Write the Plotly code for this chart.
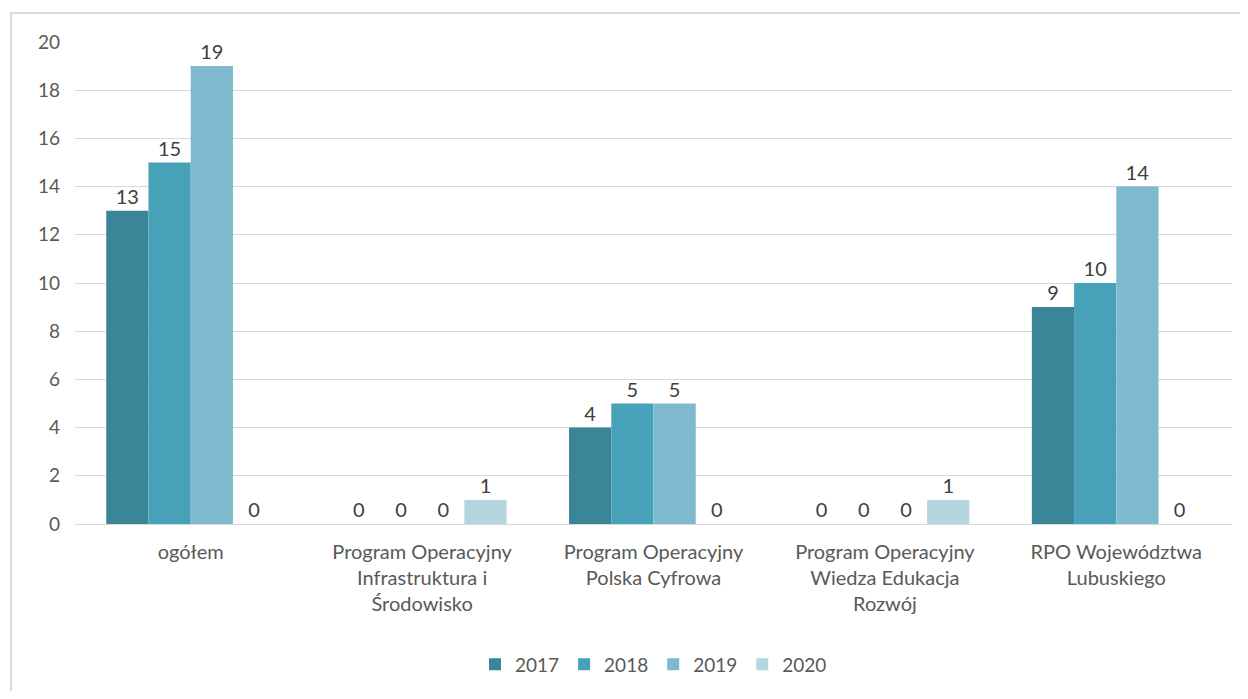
import plotly.graph_objects as go

categories = [
    "ogółem",
    "Program Operacyjny<br>Infrastruktura i<br>Środowisko",
    "Program Operacyjny<br>Polska Cyfrowa",
    "Program Operacyjny<br>Wiedza Edukacja<br>Rozwój",
    "RPO Województwa<br>Lubuskiego",
]
years = ["2017", "2018", "2019", "2020"]
values_2017 = [13, 0, 4, 0, 9]
values_2018 = [15, 0, 5, 0, 10]
values_2019 = [19, 0, 5, 0, 14]
values_2020 = [0, 1, 0, 1, 0]
series = [values_2017, values_2018, values_2019, values_2020]
colors = ["#3A8598", "#47A1B8", "#7EB9CD", "#B5D5E0"]
y_ticks = [0, 2, 4, 6, 8, 10, 12, 14, 16, 18, 20]

FONT = "Lato, Open Sans, sans-serif"
FS = 20
W, H = 1232, 683
L, T, R, B = 67, 34, 8, 165
PW = W - L - R
PH = H - T - B

fig = go.Figure()
for name, vals, col in zip(years, series, colors):
    fig.add_trace(go.Bar(
        name=name, x=categories, y=vals,
        marker=dict(color=col, line=dict(width=0)),
        text=[str(v) for v in vals], textposition="outside",
        textfont=dict(family=FONT, size=FS, color="#404040"),
        cliponaxis=False,
    ))

fig.update_layout(
    width=W, height=H,
    barmode="group", bargap=0.27, bargroupgap=0,
    plot_bgcolor="white", paper_bgcolor="white",
    margin=dict(l=L, r=R, t=T, b=B),
    font=dict(family=FONT, size=FS, color="#595959"),
    showlegend=True,
    legend=dict(orientation="h", x=0.5, xanchor="center", y=-(659 - (T + PH)) / PH,
                yanchor="middle",
                font=dict(family=FONT, size=FS - 1, color="#595959"), traceorder="normal"),
    xaxis=dict(showgrid=False, showline=False, ticks="", ticklabelstandoff=14,
               tickfont=dict(size=FS, color="#595959")),
    yaxis=dict(range=[0, 20], tickvals=y_ticks, showgrid=True, gridcolor="#D9D9D9",
               gridwidth=1, zeroline=True, zerolinecolor="#D9D9D9", zerolinewidth=1,
               ticks="", tickfont=dict(size=FS - 1, color="#595959"), ticklabelstandoff=14),
    shapes=[dict(type="rect", xref="paper", yref="paper",
                 x0=(3 - L) / PW, x1=1.2, y0=-0.6, y1=(T + PH - 5) / PH,
                 line=dict(color="#D9D9D9", width=2), layer="below")],
)

fig.write_html("out.html")
